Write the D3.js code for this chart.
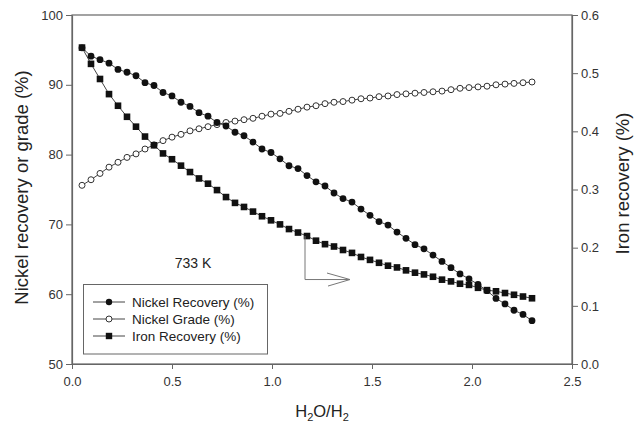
<!DOCTYPE html>
<html>
<head>
<meta charset="utf-8">
<script src="https://cdn.jsdelivr.net/npm/d3@7"></script>
<style>
  body { margin: 0; background: #fff; }
  svg { display: block; font-family: "Liberation Sans", Arial, sans-serif; }
  .axis text { font-size: 13px; fill: #333; }
  .axis line, .axis path { stroke: #666; }
</style>
</head>
<body>
<svg id="chart" width="635" height="425"></svg>
<script>
// H2O/H2 ratio, same for all series
const ratio = [0.05, 0.095, 0.14, 0.185, 0.23, 0.275, 0.32, 0.365, 0.41, 0.455,
  0.50, 0.545, 0.59, 0.635, 0.68, 0.725, 0.77, 0.815, 0.86, 0.905,
  0.95, 0.995, 1.04, 1.085, 1.13, 1.175, 1.22, 1.265, 1.31, 1.355,
  1.40, 1.445, 1.49, 1.535, 1.58, 1.625, 1.67, 1.715, 1.76, 1.805,
  1.85, 1.895, 1.94, 1.985, 2.03, 2.075, 2.12, 2.165, 2.21, 2.255, 2.30];

// left axis (%)
const nickelRecovery = [95.3, 94.1, 93.6, 93.1, 92.2, 91.8, 91.3, 90.3, 89.9, 88.9,
  88.4, 87.5, 86.9, 86.0, 85.5, 84.6, 84.1, 83.2, 82.7, 81.8,
  80.8, 80.3, 79.4, 78.4, 78.0, 77.0, 76.1, 75.5, 74.5, 73.7,
  73.2, 72.2, 71.3, 70.4, 69.9, 68.9, 68.0, 67.1, 66.5, 65.6,
  64.7, 63.8, 62.9, 62.2, 61.4, 60.5, 59.4, 58.6, 57.7, 57.1, 56.2];

const nickelGrade = [75.6, 76.4, 77.3, 78.2, 78.9, 79.6, 80.1, 80.8, 81.4, 82.0,
  82.5, 82.9, 83.4, 83.7, 84.0, 84.3, 84.6, 84.8, 85.0, 85.2,
  85.5, 85.8, 85.9, 86.2, 86.5, 86.8, 87.0, 87.3, 87.5, 87.6,
  87.8, 88.0, 88.1, 88.3, 88.4, 88.6, 88.7, 88.8, 88.9, 89.0,
  89.1, 89.3, 89.5, 89.6, 89.7, 89.8, 90.0, 90.1, 90.2, 90.3, 90.4];

// right axis (%)
const ironRecovery = [0.544, 0.516, 0.490, 0.464, 0.444, 0.425, 0.408, 0.391, 0.376, 0.362,
  0.352, 0.341, 0.330, 0.319, 0.310, 0.299, 0.287, 0.277, 0.270, 0.262,
  0.254, 0.247, 0.240, 0.232, 0.226, 0.220, 0.212, 0.206, 0.202, 0.196,
  0.191, 0.184, 0.179, 0.174, 0.169, 0.166, 0.161, 0.157, 0.154, 0.150,
  0.145, 0.142, 0.138, 0.136, 0.131, 0.127, 0.125, 0.122, 0.119, 0.116, 0.113];

const xTicks = [0, 0.5, 1.0, 1.5, 2.0, 2.5];
const yLeftTicks = [50, 60, 70, 80, 90, 100];
const yRightTicks = [0, 0.1, 0.2, 0.3, 0.4, 0.5, 0.6];

const legendLabels = ["Nickel Recovery (%)", "Nickel Grade (%)", "Iron Recovery (%)"];

// arrow pointing the iron curve to the right axis
const arrowX = [1.165, 1.39];
const arrowYLeft = 62.1;

const svg = d3.select("#chart");
const m = { left: 72, right: 63, top: 15, bottom: 61 };
const W = 635, H = 425;

const x = d3.scaleLinear().domain([0, 2.5]).range([m.left, W - m.right]);
const yL = d3.scaleLinear().domain([50, 100]).range([H - m.bottom, m.top]);
const yR = d3.scaleLinear().domain([0, 0.6]).range([H - m.bottom, m.top]);

// frame
svg.append("rect")
  .attr("x", x(0)).attr("y", yL(100))
  .attr("width", x(2.5) - x(0)).attr("height", yL(50) - yL(100))
  .attr("fill", "none").attr("stroke", "#666").attr("stroke-width", 1.2);

svg.append("g").attr("class", "axis")
  .attr("transform", `translate(0,${yL(50)})`)
  .call(d3.axisBottom(x).tickValues(xTicks).tickFormat(d3.format(".1f")).tickSize(5).tickSizeOuter(0).tickPadding(8));

svg.append("g").attr("class", "axis")
  .attr("transform", `translate(${x(0)},0)`)
  .call(d3.axisLeft(yL).tickValues(yLeftTicks).tickSize(6).tickSizeOuter(0).tickPadding(3));

svg.append("g").attr("class", "axis")
  .attr("transform", `translate(${x(2.5)},0)`)
  .call(d3.axisRight(yR).tickValues(yRightTicks).tickFormat(d3.format(".1f")).tickSize(6).tickSizeOuter(0).tickPadding(3));

svg.selectAll(".axis .domain").attr("stroke-width", 1.2);

// titles
const xt = svg.append("text")
  .attr("x", (x(0) + x(2.5)) / 2).attr("y", 417)
  .attr("text-anchor", "middle").attr("font-size", 16.5).attr("fill", "#222");
xt.append("tspan").text("H");
xt.append("tspan").text("2").attr("font-size", 11).attr("dy", 4);
xt.append("tspan").text("O/H").attr("dy", -4);
xt.append("tspan").text("2").attr("font-size", 11).attr("dy", 4);

svg.append("text")
  .attr("transform", `translate(28,${(yL(50) + yL(100)) / 2 - 2}) rotate(-90)`)
  .attr("text-anchor", "middle").attr("font-size", 18.5).attr("fill", "#222")
  .text("Nickel recovery or grade (%)");

svg.append("text")
  .attr("transform", `translate(629,${(yL(50) + yL(100)) / 2 - 6}) rotate(-90)`)
  .attr("text-anchor", "middle").attr("font-size", 18.5).attr("fill", "#222")
  .text("Iron recovery (%)");

const line = (xs, ys, yScale) => d3.line()
  .x((d, i) => x(xs[i]))
  .y(d => yScale(d));

// series lines
svg.append("path").datum(nickelGrade)
  .attr("d", line(ratio, nickelGrade, yL))
  .attr("fill", "none").attr("stroke", "#444").attr("stroke-width", 1);
svg.append("path").datum(ironRecovery)
  .attr("d", line(ratio, ironRecovery, yR))
  .attr("fill", "none").attr("stroke", "#444").attr("stroke-width", 1);
svg.append("path").datum(nickelRecovery)
  .attr("d", line(ratio, nickelRecovery, yL))
  .attr("fill", "none").attr("stroke", "#444").attr("stroke-width", 1);

// markers
svg.append("g").selectAll("circle")
  .data(nickelGrade).enter().append("circle")
  .attr("cx", (d, i) => x(ratio[i])).attr("cy", d => yL(d))
  .attr("r", 3).attr("fill", "#fff").attr("stroke", "#333").attr("stroke-width", 1);

svg.append("g").selectAll("rect")
  .data(ironRecovery).enter().append("rect")
  .attr("x", (d, i) => x(ratio[i]) - 3.3).attr("y", d => yR(d) - 3.3)
  .attr("width", 6.6).attr("height", 6.6).attr("fill", "#111");

svg.append("g").selectAll("circle")
  .data(nickelRecovery).enter().append("circle")
  .attr("cx", (d, i) => x(ratio[i])).attr("cy", d => yL(d))
  .attr("r", 3.4).attr("fill", "#111");

// arrow
const ironAtArrow = ironRecovery[ratio.indexOf(1.175)];
const ay = yL(arrowYLeft);
svg.append("path")
  .attr("d", `M${x(arrowX[0])},${yR(ironAtArrow)}V${ay}H${x(arrowX[1])}`)
  .attr("fill", "none").attr("stroke", "#777").attr("stroke-width", 1);
svg.append("path")
  .attr("d", `M${x(arrowX[1]) - 23},${ay - 6.5}L${x(arrowX[1])},${ay}L${x(arrowX[1]) - 22},${ay + 6.5}`)
  .attr("fill", "none").attr("stroke", "#777").attr("stroke-width", 1);

// legend
svg.append("text")
  .attr("x", x(0.605)).attr("y", yL(63.7))
  .attr("text-anchor", "middle").attr("font-size", 14).attr("fill", "#222")
  .text("733 K");

const lg = svg.append("g");
lg.append("rect")
  .attr("x", 83.5).attr("y", 284.5).attr("width", 184).attr("height", 69.5)
  .attr("fill", "#fff").attr("stroke", "#666").attr("stroke-width", 1);

const rows = lg.selectAll("g.row").data(legendLabels).enter().append("g")
  .attr("transform", (d, i) => `translate(0,${302 + i * 17})`);
rows.append("line")
  .attr("x1", 93).attr("x2", 125).attr("y1", 0).attr("y2", 0)
  .attr("stroke", "#444").attr("stroke-width", 1);
rows.append("text")
  .attr("x", 132).attr("y", 5).attr("font-size", 13.5).attr("fill", "#222")
  .text(d => d);
rows.filter((d, i) => i === 0).append("circle")
  .attr("cx", 109).attr("cy", 0).attr("r", 3.2).attr("fill", "#111");
rows.filter((d, i) => i === 1).append("circle")
  .attr("cx", 109).attr("cy", 0).attr("r", 3).attr("fill", "#fff").attr("stroke", "#333");
rows.filter((d, i) => i === 2).append("rect")
  .attr("x", 105.8).attr("y", -3.2).attr("width", 6.4).attr("height", 6.4).attr("fill", "#111");
</script>
</body>
</html>
